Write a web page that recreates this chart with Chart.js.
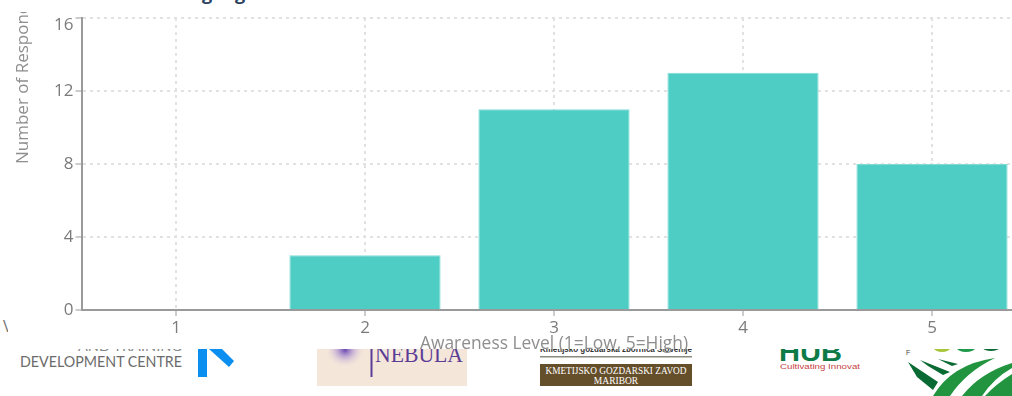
<!DOCTYPE html>
<html>
<head>
<meta charset="utf-8">
<title>Awareness Level</title>
<script src="https://cdn.jsdelivr.net/npm/chart.js@4"></script>
<style>
  html, body { margin: 0; padding: 0; background: #fff; }
  #page { position: relative; width: 1012px; height: 396px; overflow: hidden; background: #fff; }
  #partners { position: absolute; left: 0; top: 349px; width: 1012px; height: 47px; }
  #salesChart { position: absolute; left: 0; top: 0; }
  .head-letter { position: absolute; top: -19px; font: 700 18px "Open Sans", sans-serif; color: #2a3f5f; }
  #edge-letter { position: absolute; left: 0; top: 317px; width: 8px; height: 18px; overflow: hidden;
                 font: 16px "Open Sans", sans-serif; color: #777; line-height: 18px; text-indent: 3px; }
</style>
</head>
<body>
<div id="page">
  <span class="head-letter" style="left:202px">g</span>
  <span class="head-letter" style="left:235px">g</span>
  <div id="edge-letter">V</div>

  <!-- partner logo strip, sits under the chart canvas -->
  <svg id="partners" viewBox="0 349 1012 47" xmlns="http://www.w3.org/2000/svg">
    <defs>
      <radialGradient id="blot"><stop offset="0" stop-color="#6a45b0"/><stop offset="0.4" stop-color="#a78cd0" stop-opacity="0.6"/><stop offset="1" stop-color="#f5e6da" stop-opacity="0"/></radialGradient>
    </defs>

    <text x="78" y="351" font-family="Lato" font-size="14" fill="#888" textLength="104" lengthAdjust="spacingAndGlyphs">AND TRAINING</text>
    <text x="20" y="367" font-family="Lato" font-size="15" fill="#6b6b6b" textLength="162" lengthAdjust="spacingAndGlyphs">DEVELOPMENT CENTRE</text>
    <rect x="198" y="349" width="9" height="28" fill="#0a8ef0"/>
    <polygon points="209,349 222,349 234,361 229,367" fill="#0a8ef0"/>

    <rect x="317" y="349" width="150" height="37" fill="#f5e6da"/>
    <ellipse cx="345" cy="350" rx="20" ry="18" fill="url(#blot)"/>
    <rect x="370.5" y="349" width="2" height="28" fill="#5b3d96"/>
    <text x="375" y="362" font-family="Liberation Serif" font-size="23" fill="#5b3d96" textLength="88" lengthAdjust="spacingAndGlyphs">NEBULA</text>

    <text x="540" y="352" font-family="Liberation Sans" font-size="9.5" font-weight="700" fill="#333" textLength="152" lengthAdjust="spacingAndGlyphs">Kmetijsko gozdarska zbornica Slovenije</text>
    <rect x="540" y="356" width="152" height="1.5" fill="#8a8a80"/>
    <rect x="540" y="364" width="152" height="22" fill="#654e2a"/>
    <text x="616" y="374" text-anchor="middle" font-family="Liberation Serif" font-size="9.5" fill="#fff" textLength="141" lengthAdjust="spacingAndGlyphs">KMETIJSKO GOZDARSKI ZAVOD</text>
    <text x="616" y="384" text-anchor="middle" font-family="Liberation Serif" font-size="9.5" fill="#fff">MARIBOR</text>

    <text x="779" y="361" font-family="Liberation Sans" font-size="25" font-weight="700" fill="#0d7a48" textLength="63" lengthAdjust="spacingAndGlyphs">HUB</text>
    <text x="780" y="369" font-family="Liberation Sans" font-size="8" fill="#c8433f" textLength="80" lengthAdjust="spacingAndGlyphs">Cultivating Innovat</text>

    <text x="906" y="355" font-family="Liberation Sans" font-size="7" fill="#444">F</text>
    <ellipse cx="942" cy="348" rx="8" ry="4" fill="#a8c63c"/>
    <ellipse cx="966" cy="348" rx="9" ry="4" fill="#1f9a4a"/>
    <ellipse cx="991" cy="348" rx="8" ry="3" fill="#0d6b35"/>
    <polygon points="908,362 938,382 933,390 917,377" fill="#0a6a33"/>
    <polygon points="920,360 950,372 943,375 928,366" fill="#0a6a33"/>
    <polygon points="938,359 958,364 952,366" fill="#0a6a33"/>
    <path d="M933 396 Q952 364 995 358 Q966 372 950 396 Z" fill="#22943f"/>
    <path d="M962 396 Q980 373 1012 363 L1012 368 Q994 378 982 396 Z" fill="#22943f"/>
    <path d="M985 396 Q996 384 1012 374 L1012 396 Z" fill="#22943f"/>
  </svg>

  <canvas id="salesChart" width="1040" height="396"></canvas>
</div>

<script>
const levels = ['1', '2', '3', '4', '5'];
const responses = [0, 3, 11, 13, 8];
const yTicks = [0, 4, 8, 12, 16];
const xTitle = 'Awareness Level (1=Low, 5=High)';
const yTitle = 'Number of Respondents';

const textColor = '#7b7b7b';
const titleColor = '#8e8e8e';
const gridColor = '#e2e2e2';
const axisColor = '#9a9a9a';
const fontFamily = '"Open Sans", sans-serif';

// y axis title hangs off the top of the plot, so it is drawn by hand and cut at the frame edge
const yTitlePlugin = {
    id: 'yTitle',
    afterDraw(chart) {
        const ctx = chart.ctx;
        ctx.save();
        ctx.beginPath();
        ctx.rect(0, 12, 60, 300);
        ctx.clip();
        ctx.translate(28, 164);
        ctx.rotate(-Math.PI / 2);
        ctx.font = '17px ' + fontFamily;
        ctx.fillStyle = titleColor;
        ctx.textAlign = 'left';
        ctx.textBaseline = 'alphabetic';
        ctx.fillText(yTitle, 0, 0);
        ctx.restore();
    }
};

new Chart(document.getElementById('salesChart'), {
    type: 'bar',
    data: {
        labels: levels,
        datasets: [{
            label: 'Number of Respondents',
            data: responses,
            backgroundColor: '#4ecdc4',
            borderColor: '#7fdcd5',
            borderWidth: 1,
            barPercentage: 0.8,
            categoryPercentage: 1
        }]
    },
    plugins: [yTitlePlugin],
    options: {
        responsive: false,
        animation: false,
        layout: { padding: { left: 0, right: 13.5, top: 18, bottom: 0 } },
        plugins: {
            legend: { display: false },
            tooltip: { enabled: false }
        },
        scales: {
            x: {
                offset: true,
                grid: {
                    offset: false,
                    color: gridColor,
                    lineWidth: 2,
                    tickColor: axisColor,
                    tickLength: 6,
                    tickWidth: 1,
                    tickBorderDash: []
                },
                border: { color: axisColor, width: 2, dash: [3, 4] },
                ticks: { color: textColor, font: { family: fontFamily, size: 17 }, padding: 2, maxRotation: 0 },
                title: {
                    display: true,
                    text: xTitle,
                    color: titleColor,
                    font: { family: fontFamily, size: 17.4 },
                    padding: { top: 0, bottom: 42 }
                },
                afterFit(scale) { scale.height = 86; }
            },
            y: {
                min: 0,
                max: 16,
                afterBuildTicks(scale) { scale.ticks = yTicks.map(v => ({ value: v })); },
                grid: {
                    color: gridColor,
                    lineWidth: 2,
                    tickColor: axisColor,
                    tickLength: 6,
                    tickWidth: 1,
                    tickBorderDash: []
                },
                border: { color: axisColor, width: 2, dash: [3, 4] },
                ticks: {
                    color: textColor,
                    font: { family: fontFamily, size: 17, lineHeight: 0.85 },
                    padding: 2,
                    // top label sits just under its tick, pushed down by an empty first line
                    callback: v => (v === yTicks[yTicks.length - 1] ? ['', String(v)] : String(v))
                },
                afterFit(scale) { scale.width = 81.5; }
            }
        }
    }
});
</script>
</body>
</html>
